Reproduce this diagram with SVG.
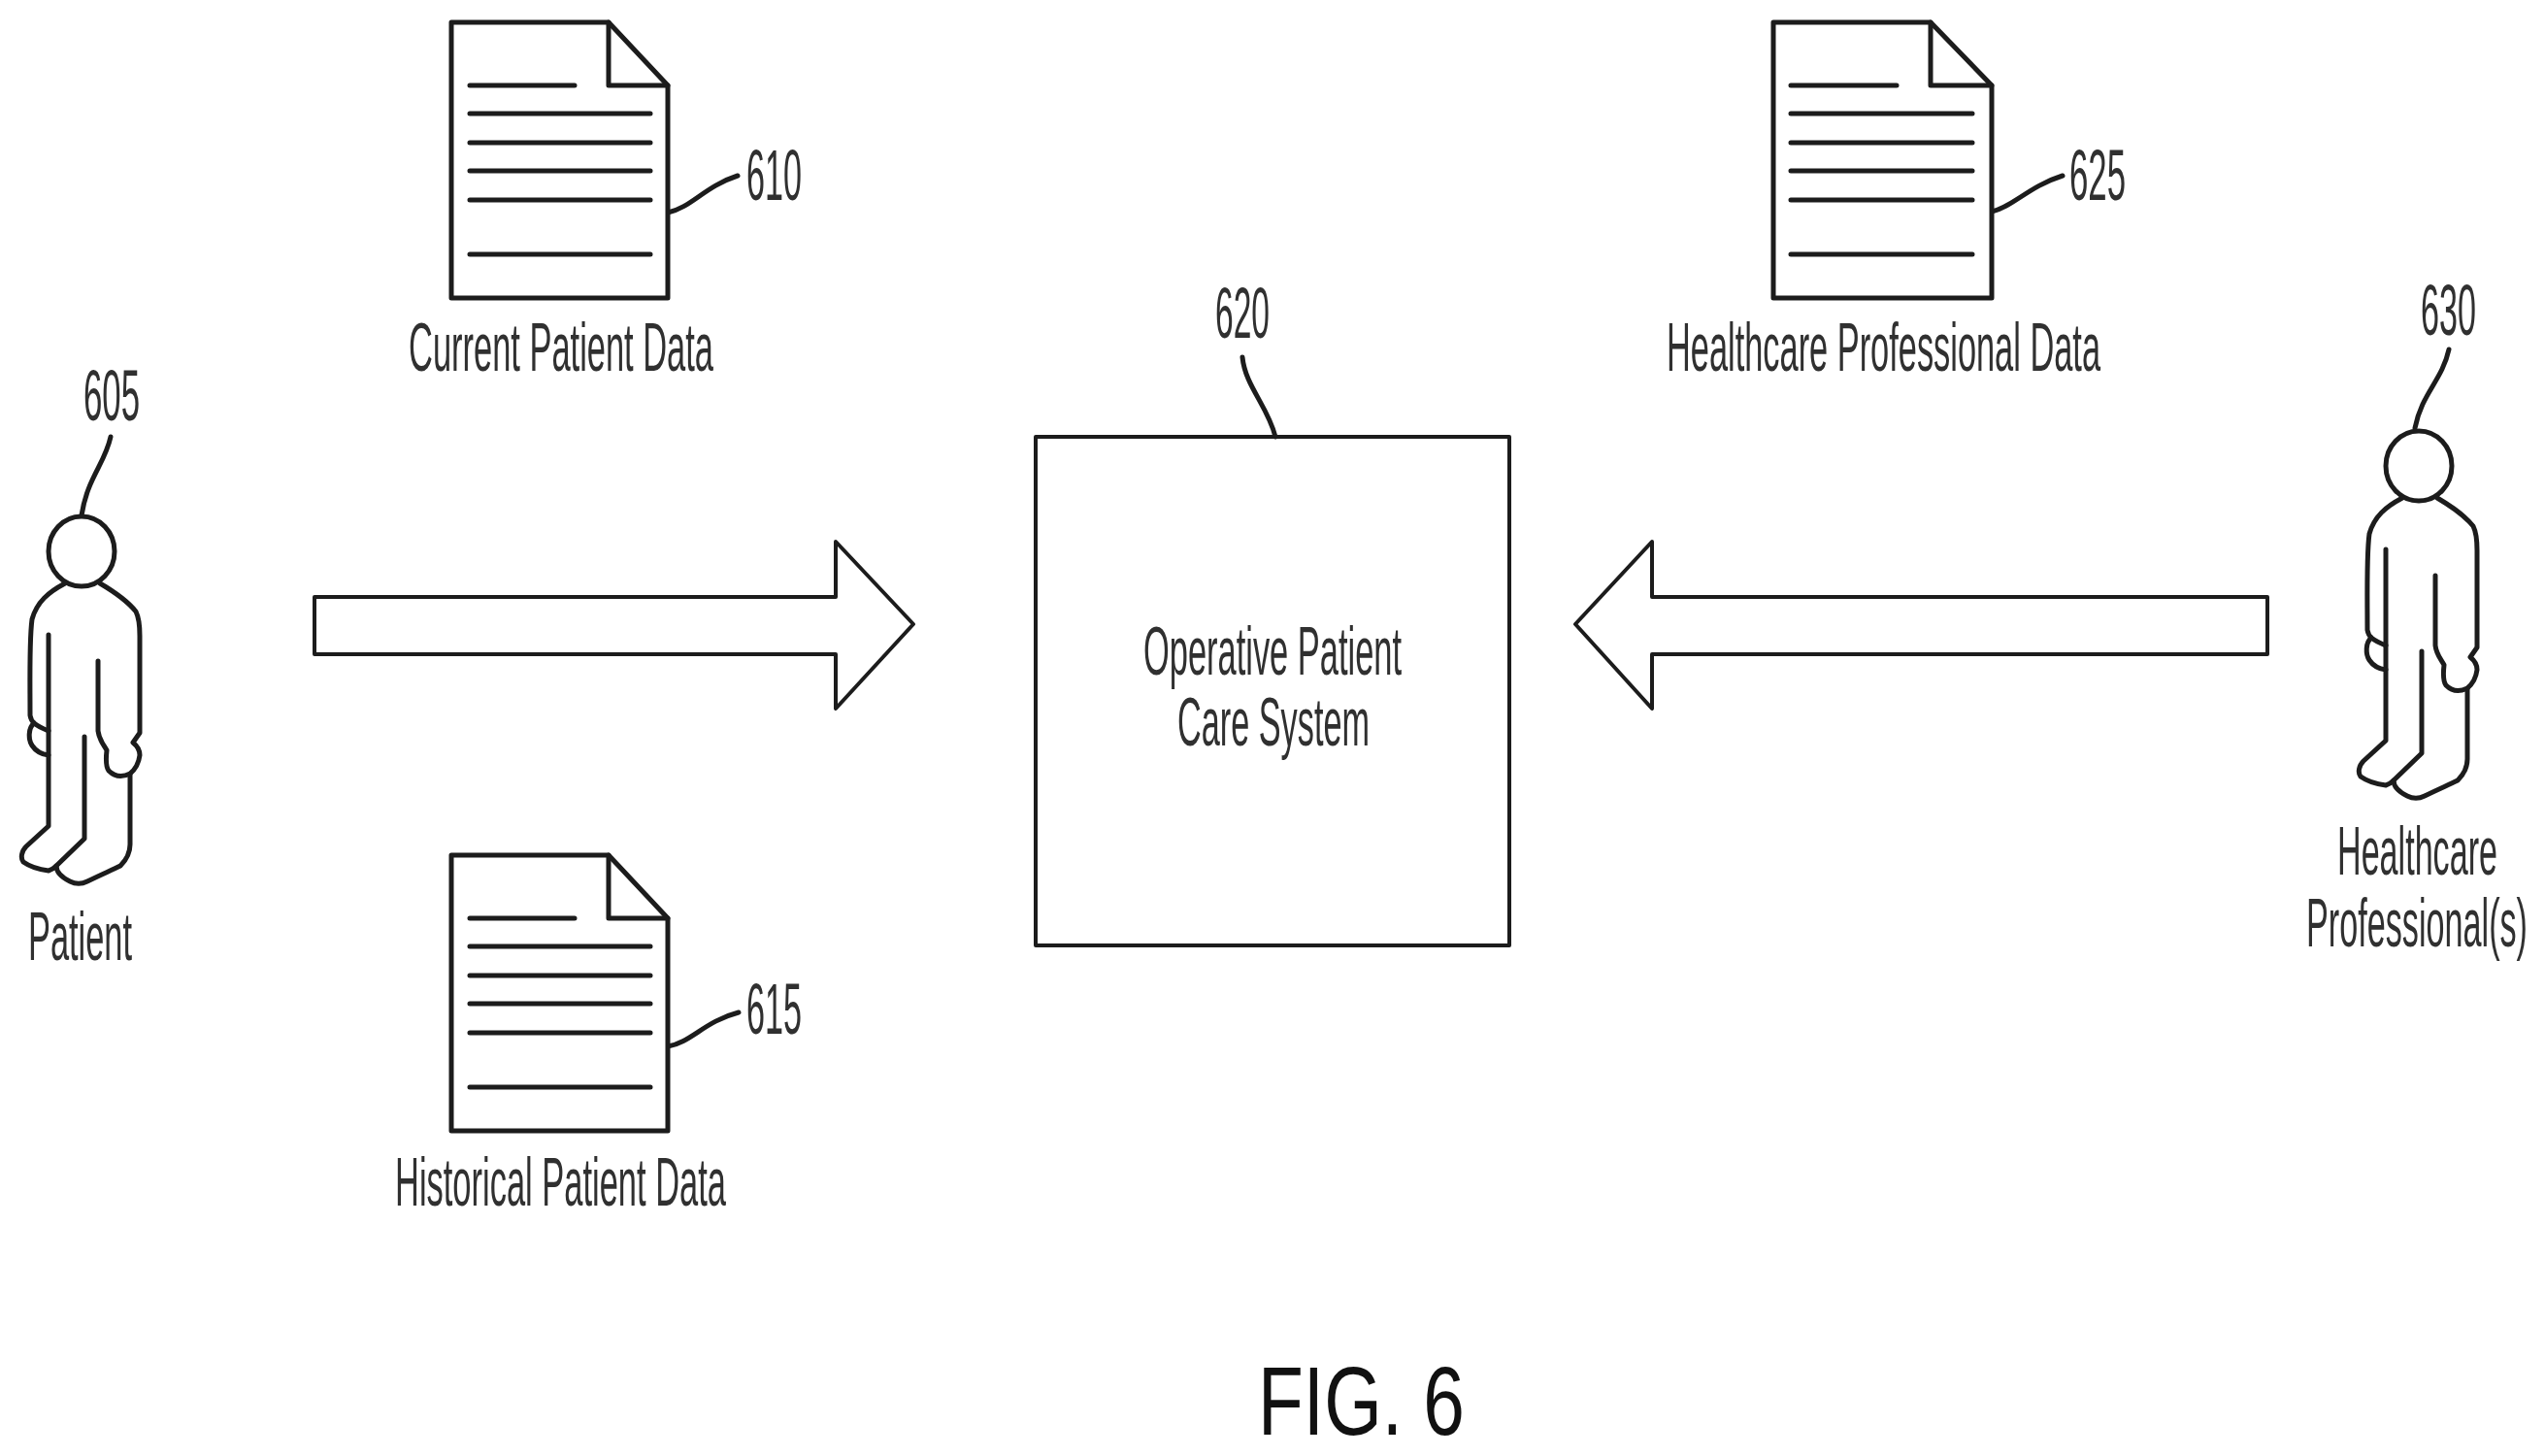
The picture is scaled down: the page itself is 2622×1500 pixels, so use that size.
<svg xmlns="http://www.w3.org/2000/svg" xmlns:xlink="http://www.w3.org/1999/xlink" width="2622" height="1500" viewBox="0 0 2622 1500">
<style>
.s{fill:none;stroke:#1c1c1c;stroke-width:5;stroke-linecap:round;stroke-linejoin:round}
.t{stroke-width:4}
.w{fill:#fff}
text{font-family:"Liberation Sans",Arial,sans-serif;font-size:71px;fill:#303030}
.n{font-size:75px}
</style>
<defs>
<g id="doc">
<path class="s w" d="M0 0H162L223 65V284H0Z"/>
<path class="s" d="M162 0V65H223"/>
<path class="s" d="M19 65H127M19 94H205M19 124H205M19 153H205M19 183H205M19 239H205"/>
</g>
<g id="docwide">
<path class="s w" d="M0 0H162L225 65V284H0Z"/>
<path class="s" d="M162 0V65H225"/>
<path class="s" d="M18 65H127M18 94H205M18 124H205M18 153H205M18 183H205M18 239H205"/>
</g>
<g id="person">
<ellipse class="s" cx="84" cy="568" rx="34" ry="36"/>
<path class="s" d="M67 601C50 610 38 620 33 638C30 660 31 700 31 737C32 744 36 747 50 753"/>
<path class="s" d="M35 745C29 750 29 762 33 768C37 774 42 777 50 778"/>
<path class="s" d="M50 654V851L27 872C22 877 21 884 24 888C31 893 42 896 50 897C54 896 56 894 58 892L87 864V759"/>
<path class="s" d="M58 892C58 900 66 905 72 908C78 911 84 911 90 908C102 902 116 896 124 892C130 886 134 878 134 870V798"/>
<path class="s" d="M103 601C120 611 132 620 140 630C143 636 144 645 144 655V755L137 765C142 769 144 774 144 778C143 786 140 792 134 797C126 801 118 800 112 794C109 790 109 782 110 773C106 766 102 762 101 753V681"/>
</g>
</defs>
<rect width="2622" height="1500" fill="#fff"/>
<g id="connectors">
<path class="s t" d="M324 615H861V558L941 643L861 730V674H324Z"/>
<path class="s t" d="M2336 615H1702V558L1623 643L1702 730V674H2336Z"/>
<path class="s" d="M114 450C108 478 90 492 84 531"/>
<path class="s" d="M688 219C712 214 726 192 760 181"/>
<path class="s" d="M688 1078C712 1074 726 1052 761 1043"/>
<path class="s" d="M2052 218C2074 213 2090 192 2125 181"/>
<path class="s" d="M1280 368C1283 398 1306 418 1314 450"/>
<path class="s" d="M2523 360C2516 392 2495 405 2488 441"/>
</g>
<g id="patient">
<use href="#person"/>
<text x="29" y="989" textLength="107" lengthAdjust="spacingAndGlyphs">Patient</text>
<text x="86" y="433" textLength="58" lengthAdjust="spacingAndGlyphs" class="n">605</text>
</g>
<g id="current-patient-data">
<use href="#doc" x="465" y="23"/>
<text x="421" y="382" textLength="314" lengthAdjust="spacingAndGlyphs">Current Patient Data</text>
<text x="769" y="206" textLength="57" lengthAdjust="spacingAndGlyphs" class="n">610</text>
</g>
<g id="historical-patient-data">
<use href="#doc" x="465" y="881"/>
<text x="407" y="1242" textLength="341" lengthAdjust="spacingAndGlyphs">Historical Patient Data</text>
<text x="769" y="1065" textLength="57" lengthAdjust="spacingAndGlyphs" class="n">615</text>
</g>
<g id="operative-patient-care-system">
<rect class="s t" x="1067" y="450" width="488" height="524"/>
<text x="1178" y="695" textLength="266" lengthAdjust="spacingAndGlyphs">Operative Patient</text>
<text x="1213" y="768" textLength="198" lengthAdjust="spacingAndGlyphs">Care System</text>
<text x="1252" y="348" textLength="56" lengthAdjust="spacingAndGlyphs" class="n">620</text>
</g>
<g id="healthcare-professional-data">
<use href="#docwide" x="1827" y="23"/>
<text x="1717" y="382" textLength="447" lengthAdjust="spacingAndGlyphs">Healthcare Professional Data</text>
<text x="2132" y="206" textLength="58" lengthAdjust="spacingAndGlyphs" class="n">625</text>
</g>
<g id="healthcare-professional">
<use href="#person" transform="translate(2408 -88)"/>
<text x="2408" y="901" textLength="165" lengthAdjust="spacingAndGlyphs">Healthcare</text>
<text x="2376" y="975" textLength="228" lengthAdjust="spacingAndGlyphs">Professional(s)</text>
<text x="2494" y="345" textLength="57" lengthAdjust="spacingAndGlyphs" class="n">630</text>
</g>
<text id="figure-label" x="1296" y="1478" textLength="213" lengthAdjust="spacingAndGlyphs" style="font-size:101px;fill:#111">FIG. 6</text>
</svg>
